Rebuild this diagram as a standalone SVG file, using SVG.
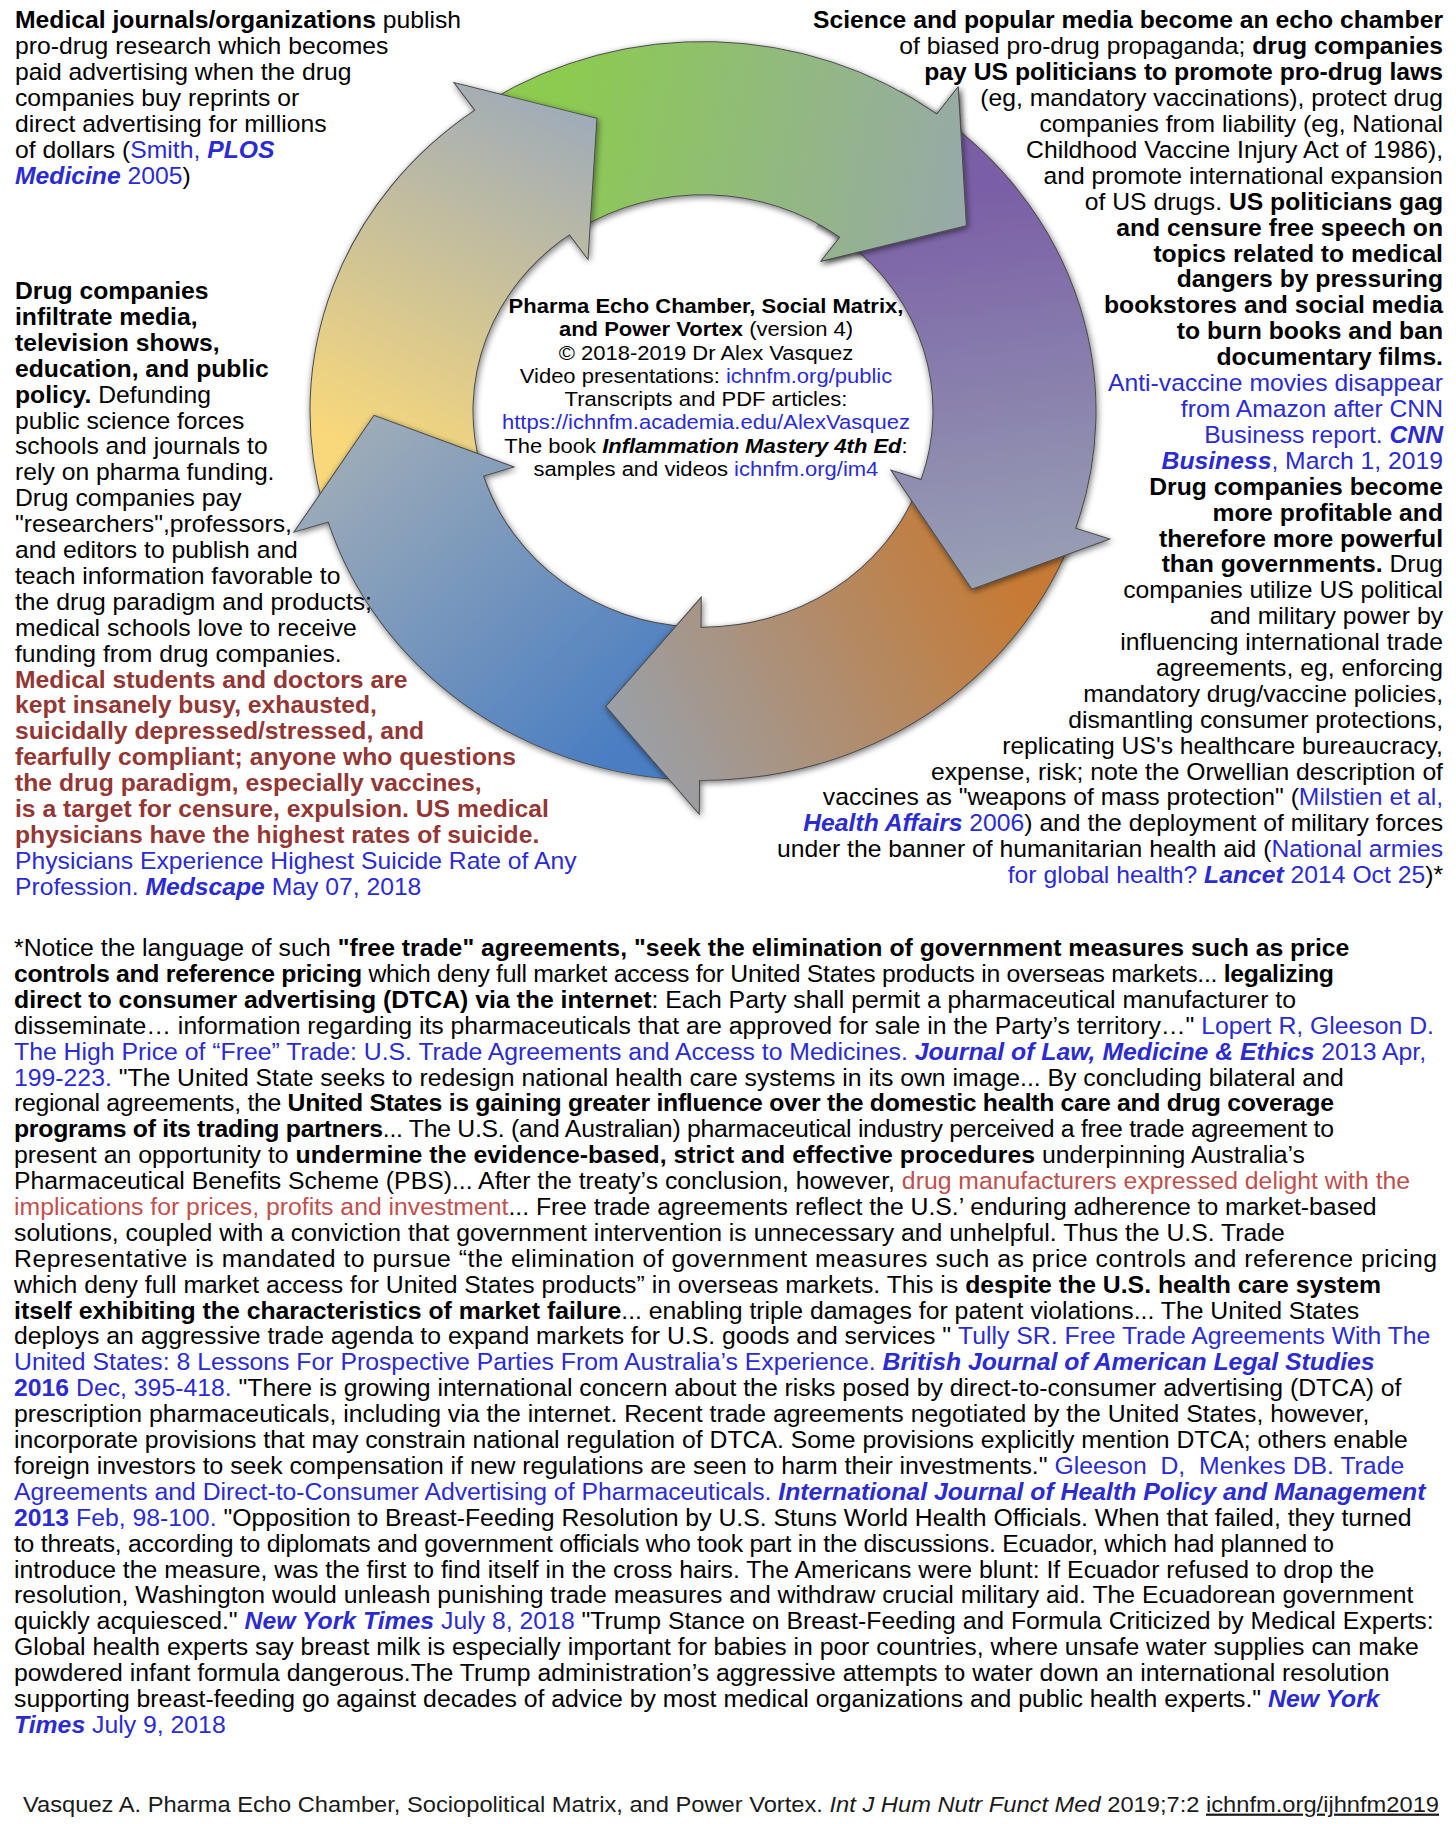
<svg xmlns="http://www.w3.org/2000/svg" xmlns:xlink="http://www.w3.org/1999/xlink" width="1456" height="1824" viewBox="0 0 1456 1824">
<style>
text { font-family: "Liberation Sans", Arial, Helvetica, sans-serif; font-size: 24.7px; fill: #000; }
.c { font-size: 22px; text-anchor: middle; }
.f { font-size: 23.7px; fill: #1a1a1a; }
.p { font-size: 24.8px; }
.b { font-weight: bold; }
.i { font-style: italic; }
.bi { font-weight: bold; font-style: italic; }
.bl { fill: #2b2bd3; }
.rd { fill: #943634; font-weight: bold; }
.rd2 { fill: #c0504d; }
.e { text-anchor: end; }
.u { text-decoration: underline; }
.arrow { stroke: #4a4a4a; stroke-width: 1; stroke-linejoin: miter; }
</style>
<defs>
  <path id="arr" d="M -214.0,-329.6 A 393 393 0 0 1 233.8,-315.9 L 255.2,-344.9 L 263.4,-197.1 L 117.8,-159.2 L 136.8,-184.9 A 230 230 0 0 0 -125.3,-192.9 Z"/>
  <linearGradient id="g0" gradientUnits="userSpaceOnUse" x1="-155.5" y1="-269.3" x2="263.4" y2="-197.1">
    <stop offset="0" stop-color="#8ccb4f"/><stop offset="1" stop-color="#97a9aa"/>
  </linearGradient>
  <linearGradient id="g1" gradientUnits="userSpaceOnUse" x1="-155.5" y1="-269.3" x2="263.4" y2="-197.1">
    <stop offset="0" stop-color="#7a5ea6"/><stop offset="1" stop-color="#98a1b4"/>
  </linearGradient>
  <linearGradient id="g2" gradientUnits="userSpaceOnUse" x1="-155.5" y1="-269.3" x2="263.4" y2="-197.1">
    <stop offset="0" stop-color="#c67a34"/><stop offset="1" stop-color="#9aa0a8"/>
  </linearGradient>
  <linearGradient id="g3" gradientUnits="userSpaceOnUse" x1="-155.5" y1="-269.3" x2="263.4" y2="-197.1">
    <stop offset="0" stop-color="#4a7ec2"/><stop offset="1" stop-color="#9eacb8"/>
  </linearGradient>
  <linearGradient id="g4" gradientUnits="userSpaceOnUse" x1="-155.5" y1="-269.3" x2="263.4" y2="-197.1">
    <stop offset="0" stop-color="#f8d87a"/><stop offset="1" stop-color="#9eabb8"/>
  </linearGradient>
  <filter id="sh" x="-20%" y="-20%" width="140%" height="140%">
    <feGaussianBlur in="SourceAlpha" stdDeviation="3.5"/>
    <feOffset dx="1" dy="2"/>
    <feComponentTransfer><feFuncA type="linear" slope="0.55"/></feComponentTransfer>
    <feMerge><feMergeNode/><feMergeNode in="SourceGraphic"/></feMerge>
  </filter>
  <clipPath id="cw" clipPathUnits="userSpaceOnUse">
    <polygon points="0,0 250,-433 394,-308 483,-129"/>
  </clipPath>
</defs>
<rect x="0" y="0" width="1456" height="1824" fill="#ffffff"/>
<g transform="scale(1,0.94)">
  <g id="connectors" transform="translate(703,437.2)">
    <g id="arrow-green" filter="url(#sh)"><use xlink:href="#arr" href="#arr" class="arrow" fill="url(#g0)"/></g>
    <g id="arrow-yellow" filter="url(#sh)"><use xlink:href="#arr" href="#arr" class="arrow" fill="url(#g4)" transform="rotate(288)"/></g>
    <g id="arrow-blue" filter="url(#sh)"><use xlink:href="#arr" href="#arr" class="arrow" fill="url(#g3)" transform="rotate(216)"/></g>
    <g id="arrow-brown" filter="url(#sh)"><use xlink:href="#arr" href="#arr" class="arrow" fill="url(#g2)" transform="rotate(144)"/></g>
    <g id="arrow-purple" filter="url(#sh)"><use xlink:href="#arr" href="#arr" class="arrow" fill="url(#g1)" transform="rotate(72)"/></g>
    <g id="arrow-green-head" clip-path="url(#cw)"><g filter="url(#sh)"><use xlink:href="#arr" href="#arr" class="arrow" fill="url(#g0)"/></g></g>
  </g>

  <g id="node-center">
    <text class="c" x="706" y="333.0"><tspan class="b">Pharma Echo Chamber, Social Matrix,</tspan></text>
    <text class="c" x="706" y="357.8"><tspan class="b">and Power Vortex</tspan> (version 4)</text>
    <text class="c" x="706" y="382.6">© 2018-2019 Dr Alex Vasquez</text>
    <text class="c" x="706" y="407.4">Video presentations: <tspan class="bl">ichnfm.org/public</tspan></text>
    <text class="c" x="706" y="432.1">Transcripts and PDF articles:</text>
    <text class="c" x="706" y="456.9"><tspan class="bl">https://ichnfm.academia.edu/AlexVasquez</tspan></text>
    <text class="c" x="706" y="481.7">The book <tspan class="bi">Inflammation Mastery 4th Ed</tspan>:</text>
    <text class="c" x="706" y="506.5">samples and videos <tspan class="bl">ichnfm.org/im4</tspan></text>
  </g>

  <g id="node-top-left">
    <text x="15" y="30.3"><tspan class="b">Medical journals/organizations</tspan> publish</text>
    <text x="15" y="57.9">pro-drug research which becomes</text>
    <text x="15" y="85.4">paid advertising when the drug</text>
    <text x="15" y="113.0">companies buy reprints or</text>
    <text x="15" y="140.5">direct advertising for millions</text>
    <text x="15" y="168.1">of dollars (<tspan class="bl">Smith, <tspan class="bi">PLOS</tspan></tspan></text>
    <text x="15" y="195.6"><tspan class="bl"><tspan class="bi">Medicine</tspan> 2005</tspan>)</text>
  </g>

  <g id="node-left">
    <text x="15" y="318.1" class="b">Drug companies</text>
    <text x="15" y="345.6" class="b">infiltrate media,</text>
    <text x="15" y="373.2" class="b">television shows,</text>
    <text x="15" y="400.8" class="b">education, and public</text>
    <text x="15" y="428.3"><tspan class="b">policy.</tspan> Defunding</text>
    <text x="15" y="455.9">public science forces</text>
    <text x="15" y="483.4">schools and journals to</text>
    <text x="15" y="511.0">rely on pharma funding.</text>
    <text x="15" y="538.5">Drug companies pay</text>
    <text x="15" y="566.1">"researchers",professors,</text>
    <text x="15" y="593.6">and editors to publish and</text>
    <text x="15" y="621.2">teach information favorable to</text>
    <text x="15" y="648.7">the drug paradigm and products;</text>
    <text x="15" y="676.3">medical schools love to receive</text>
    <text x="15" y="703.8">funding from drug companies.</text>
    <text x="15" y="731.4" class="rd">Medical students and doctors are</text>
    <text x="15" y="759.0" class="rd">kept insanely busy, exhausted,</text>
    <text x="15" y="786.5" class="rd">suicidally depressed/stressed, and</text>
    <text x="15" y="814.1" class="rd">fearfully compliant; anyone who questions</text>
    <text x="15" y="841.6" class="rd">the drug paradigm, especially vaccines,</text>
    <text x="15" y="869.2" class="rd">is a target for censure, expulsion. US medical</text>
    <text x="15" y="896.7" class="rd">physicians have the highest rates of suicide.</text>
    <text x="15" y="924.3" class="bl">Physicians Experience Highest Suicide Rate of Any</text>
    <text x="15" y="951.8" class="bl">Profession. <tspan class="bi">Medscape</tspan> May 07, 2018</text>
  </g>

  <g id="node-right">
    <text class="e" x="1443" y="30.3"><tspan class="b">Science and popular media become an echo chamber</tspan></text>
    <text class="e" x="1443" y="57.9">of biased pro-drug propaganda; <tspan class="b">drug companies</tspan></text>
    <text class="e" x="1443" y="85.4"><tspan class="b">pay US politicians to promote pro-drug laws</tspan></text>
    <text class="e" x="1443" y="113.0">(eg, mandatory vaccinations), protect drug</text>
    <text class="e" x="1443" y="140.5">companies from liability (eg, National</text>
    <text class="e" x="1443" y="168.1">Childhood Vaccine Injury Act of 1986),</text>
    <text class="e" x="1443" y="195.6">and promote international expansion</text>
    <text class="e" x="1443" y="223.2">of US drugs. <tspan class="b">US politicians gag</tspan></text>
    <text class="e b" x="1443" y="250.7">and censure free speech on</text>
    <text class="e b" x="1443" y="278.3">topics related to medical</text>
    <text class="e b" x="1443" y="305.8">dangers by pressuring</text>
    <text class="e b" x="1443" y="333.4">bookstores and social media</text>
    <text class="e b" x="1443" y="360.9">to burn books and ban</text>
    <text class="e b" x="1443" y="388.5">documentary films.</text>
    <text class="e bl" x="1443" y="416.0">Anti-vaccine movies disappear</text>
    <text class="e bl" x="1443" y="443.6">from Amazon after CNN</text>
    <text class="e bl" x="1443" y="471.2">Business report. <tspan class="bi">CNN</tspan></text>
    <text class="e bl" x="1443" y="498.7"><tspan class="bi">Business</tspan>, March 1, 2019</text>
    <text class="e b" x="1443" y="526.3">Drug companies become</text>
    <text class="e b" x="1443" y="553.8">more profitable and</text>
    <text class="e b" x="1443" y="581.4">therefore more powerful</text>
    <text class="e" x="1443" y="608.9"><tspan class="b">than governments.</tspan> Drug</text>
    <text class="e" x="1443" y="636.5">companies utilize US political</text>
    <text class="e" x="1443" y="664.0">and military power by</text>
    <text class="e" x="1443" y="691.6">influencing international trade</text>
    <text class="e" x="1443" y="719.1">agreements, eg, enforcing</text>
    <text class="e" x="1443" y="746.7">mandatory drug/vaccine policies,</text>
    <text class="e" x="1443" y="774.2">dismantling consumer protections,</text>
    <text class="e" x="1443" y="801.8">replicating US's healthcare bureaucracy,</text>
    <text class="e" x="1443" y="829.3">expense, risk; note the Orwellian description of</text>
    <text class="e" x="1443" y="856.9">vaccines as "weapons of mass protection" (<tspan class="bl">Milstien et al,</tspan></text>
    <text class="e" x="1443" y="884.4"><tspan class="bl"><tspan class="bi">Health Affairs</tspan> 2006</tspan>) and the deployment of military forces</text>
    <text class="e" x="1443" y="912.0">under the banner of humanitarian health aid (<tspan class="bl">National armies</tspan></text>
    <text class="e" x="1443" y="939.6"><tspan class="bl">for global health? <tspan class="bi">Lancet</tspan> 2014 Oct 25</tspan>)*</text>
  </g>

  <g id="node-bottom" class="p">
    <text class="p" x="14" y="1017.0">*Notice the language of such <tspan class="b">"free trade" agreements, "seek the elimination of government measures such as price</tspan></text>
    <text class="p" x="14" y="1044.6" textLength="1320"><tspan class="b">controls and reference pricing</tspan> which deny full market access for United States products in overseas markets... <tspan class="b">legalizing</tspan></text>
    <text class="p" x="14" y="1072.1"><tspan class="b">direct to consumer advertising (DTCA) via the internet</tspan>: Each Party shall permit a pharmaceutical manufacturer to</text>
    <text class="p" x="14" y="1099.7">disseminate… information regarding its pharmaceuticals that are approved for sale in the Party’s territory…" <tspan class="bl">Lopert R, Gleeson D.</tspan></text>
    <text class="p bl" x="14" y="1127.2">The High Price of “Free” Trade: U.S. Trade Agreements and Access to Medicines. <tspan class="bi">Journal of Law, Medicine &amp; Ethics</tspan> 2013 Apr,</text>
    <text class="p" x="14" y="1154.8"><tspan class="bl">199-223.</tspan> "The United State seeks to redesign national health care systems in its own image... By concluding bilateral and</text>
    <text class="p" x="14" y="1182.3" textLength="1320">regional agreements, the <tspan class="b">United States is gaining greater influence over the domestic health care and drug coverage</tspan></text>
    <text class="p" x="14" y="1209.9" textLength="1320"><tspan class="b">programs of its trading partners</tspan>... The U.S. (and Australian) pharmaceutical industry perceived a free trade agreement to</text>
    <text class="p" x="14" y="1237.4" textLength="1291">present an opportunity to <tspan class="b">undermine the evidence-based, strict and effective procedures</tspan> underpinning Australia’s</text>
    <text class="p" x="14" y="1265.0">Pharmaceutical Benefits Scheme (PBS)... After the treaty’s conclusion, however, <tspan class="rd2">drug manufacturers expressed delight with the</tspan></text>
    <text class="p" x="14" y="1292.5"><tspan class="rd2">implications for prices, profits and investment</tspan>... Free trade agreements reflect the U.S.’ enduring adherence to market-based</text>
    <text class="p" x="14" y="1320.1">solutions, coupled with a conviction that government intervention is unnecessary and unhelpful. Thus the U.S. Trade</text>
    <text class="p" x="14" y="1347.6" textLength="1423">Representative is mandated to pursue “the elimination of government measures such as price controls and reference pricing</text>
    <text class="p" x="14" y="1375.2">which deny full market access for United States products” in overseas markets. This is <tspan class="b">despite the U.S. health care system</tspan></text>
    <text class="p" x="14" y="1402.8"><tspan class="b">itself exhibiting the characteristics of market failure</tspan>... enabling triple damages for patent violations... The United States</text>
    <text class="p" x="14" y="1430.3">deploys an aggressive trade agenda to expand markets for U.S. goods and services " <tspan class="bl">Tully SR. Free Trade Agreements With The</tspan></text>
    <text class="p bl" x="14" y="1457.9">United States: 8 Lessons For Prospective Parties From Australia’s Experience. <tspan class="bi">British Journal of American Legal Studies</tspan></text>
    <text class="p" x="14" y="1485.4"><tspan class="bl"><tspan class="b">2016</tspan> Dec, 395-418.</tspan> "There is growing international concern about the risks posed by direct-to-consumer advertising (DTCA) of</text>
    <text class="p" x="14" y="1513.0">prescription pharmaceuticals, including via the internet. Recent trade agreements negotiated by the United States, however,</text>
    <text class="p" x="14" y="1540.5">incorporate provisions that may constrain national regulation of DTCA. Some provisions explicitly mention DTCA; others enable</text>
    <text class="p" x="14" y="1568.1" xml:space="preserve">foreign investors to seek compensation if new regulations are seen to harm their investments." <tspan class="bl">Gleeson  D,  Menkes DB. Trade</tspan></text>
    <text class="p bl" x="14" y="1595.6">Agreements and Direct-to-Consumer Advertising of Pharmaceuticals. <tspan class="bi">International Journal of Health Policy and Management</tspan></text>
    <text class="p" x="14" y="1623.2"><tspan class="bl"><tspan class="b">2013</tspan> Feb, 98-100.</tspan> "Opposition to Breast-Feeding Resolution by U.S. Stuns World Health Officials. When that failed, they turned</text>
    <text class="p" x="14" y="1650.7" textLength="1320">to threats, according to diplomats and government officials who took part in the discussions. Ecuador, which had planned to</text>
    <text class="p" x="14" y="1678.3">introduce the measure, was the first to find itself in the cross hairs. The Americans were blunt: If Ecuador refused to drop the</text>
    <text class="p" x="14" y="1705.8">resolution, Washington would unleash punishing trade measures and withdraw crucial military aid. The Ecuadorean government</text>
    <text class="p" x="14" y="1733.4">quickly acquiesced." <tspan class="bl"><tspan class="bi">New York Times</tspan> July 8, 2018</tspan> "Trump Stance on Breast-Feeding and Formula Criticized by Medical Experts:</text>
    <text class="p" x="14" y="1760.9">Global health experts say breast milk is especially important for babies in poor countries, where unsafe water supplies can make</text>
    <text class="p" x="14" y="1788.5">powdered infant formula dangerous.The Trump administration’s aggressive attempts to water down an international resolution</text>
    <text class="p" x="14" y="1816.0">supporting breast-feeding go against decades of advice by most medical organizations and public health experts." <tspan class="bl bi">New York</tspan></text>
    <text class="p bl" x="14" y="1843.6"><tspan class="bi">Times</tspan> July 9, 2018</text>
  </g>

  <g id="node-footer">
    <text class="f" x="23" y="1927.3">Vasquez A. Pharma Echo Chamber, Sociopolitical Matrix, and Power Vortex. <tspan class="i">Int J Hum Nutr Funct Med</tspan> 2019;7:2 <tspan class="u">ichnfm.org/ijhnfm2019</tspan></text>
  </g>
</g>
</svg>
